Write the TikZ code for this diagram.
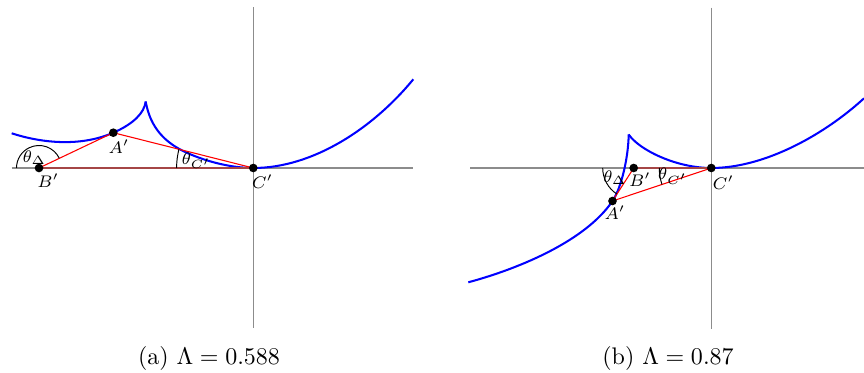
\documentclass[tikz,border=0pt]{standalone}
\usepackage{amsmath,amssymb}
\usetikzlibrary{positioning}
\definecolor{basecol}{RGB}{165,70,70}

\begin{document}
\begin{tikzpicture}[
  x=0.4167pt, y=0.4167pt,
  axis/.style={gray!90, line width=0.55pt},
  curve/.style={blue, line width=0.85pt},
  side/.style={red, line width=0.45pt},
  base/.style={basecol, line width=0.55pt},
  ang/.style={black, line width=0.4pt},
  dot/.style={circle, fill=black, inner sep=0pt, minimum size=3.6pt},
  lbl/.style={inner sep=0pt, font=\fontsize{7.2}{8}\selectfont},
  angl/.style={inner sep=0pt, font=\fontsize{7.5}{8}\selectfont},
  subcap/.style={inner sep=0pt, font=\normalsize}]
\useasboundingbox (0,0) rectangle (864,373);

% (a) Lambda = 0.588
\begin{scope}[shift={(253.3,205)}]
\coordinate (Ca) at (0,0);
\coordinate (Ba) at (-214.3,0);
\coordinate (Aa) at (-140,35.3);
\coordinate (Ka) at (-107.6,66.5);
\draw[axis] (-241.6,0) -- (159.7,0);
\draw[axis] (0,160.7) -- (0,-160);
\draw[curve] (-241.6,34.7) .. controls (-215,26) and (-175,20) .. (Aa)
  .. controls (-120,44) and (-109,55) .. (Ka);
\draw[curve] (Ka) .. controls (-103,40) and (-88,25) .. (-66.6,15.3)
  .. controls (-45,5.5) and (-20,0) .. (Ca)
  .. controls (60,0) and (120,40) .. (160,88.7);
\draw[base] (Ba) -- (Ca);
\draw[side] (Ba) -- (Aa);
\draw[side] (Aa) -- (Ca);
\draw[ang] (Ba) ++(25.4:22.5) arc[start angle=25.4, end angle=180, radius=22.5];
\draw[ang] (Ca) ++(165.85:76.7) arc[start angle=165.85, end angle=180, radius=76.7];
\node[dot] (dBa) at (Ba) {};
\node[dot] (dAa) at (Aa) {};
\node[dot] (dCa) at (Ca) {};
\node[lbl] (lBa) at (-205,-12.3) {$B'$};
\node[lbl] (lAa) at (-134.3,21.3) {$A'$};
\node[lbl] (lCa) at (9.2,-13.7) {$C'$};
\node[angl] (tDa) at (-219,10.5) {$\theta_\Delta$};
\node[angl] (tCa) at (-57,7.3) {$\theta_{C'}$};
\node[subcap] (capa) at (-44.3,-191) {(a) $\Lambda = 0.588$};
\end{scope}

% (b) Lambda = 0.87
\begin{scope}[shift={(711.3,205)}]
\coordinate (Cb) at (0,0);
\coordinate (Bb) at (-77.6,0);
\coordinate (Ab) at (-98.8,-33);
\coordinate (Kb) at (-82.6,33.5);
\draw[axis] (-241,0) -- (152.7,0);
\draw[axis] (0,160.3) -- (0,-161);
\draw[curve] (-243,-114.3) .. controls (-190,-100) and (-125,-72) .. (Ab)
  .. controls (-90,-20) and (-83,10) .. (Kb);
\draw[curve] (Kb) .. controls (-72,18) and (-35,0) .. (Cb)
  .. controls (55,0) and (115,35) .. (152.7,69.7);
\draw[base] (Bb) -- (Cb);
\draw[side] (Bb) -- (Ab);
\draw[side] (Ab) -- (Cb);
\draw[ang] (Bb) ++(180:31) arc[start angle=180, end angle=237.3, radius=31];
\draw[ang] (Cb) ++(180:52) arc[start angle=180, end angle=198.5, radius=52];
\node[dot] (dBb) at (Bb) {};
\node[dot] (dAb) at (Ab) {};
\node[dot] (dCb) at (Cb) {};
\node[lbl] (lBb) at (-71.3,-11.5) {$B'$};
\node[lbl] (lAb) at (-96.3,-44.5) {$A'$};
\node[lbl] (lCb) at (12,-15) {$C'$};
\node[angl] (tDb) at (-96.5,-9.5) {$\theta_\Delta$};
\node[angl] (tCb) at (-38.5,-8) {$\theta_{C'}$};
\node[subcap] (capb) at (-43.3,-191) {(b) $\Lambda = 0.87$};
\end{scope}
\end{tikzpicture}
\end{document}
